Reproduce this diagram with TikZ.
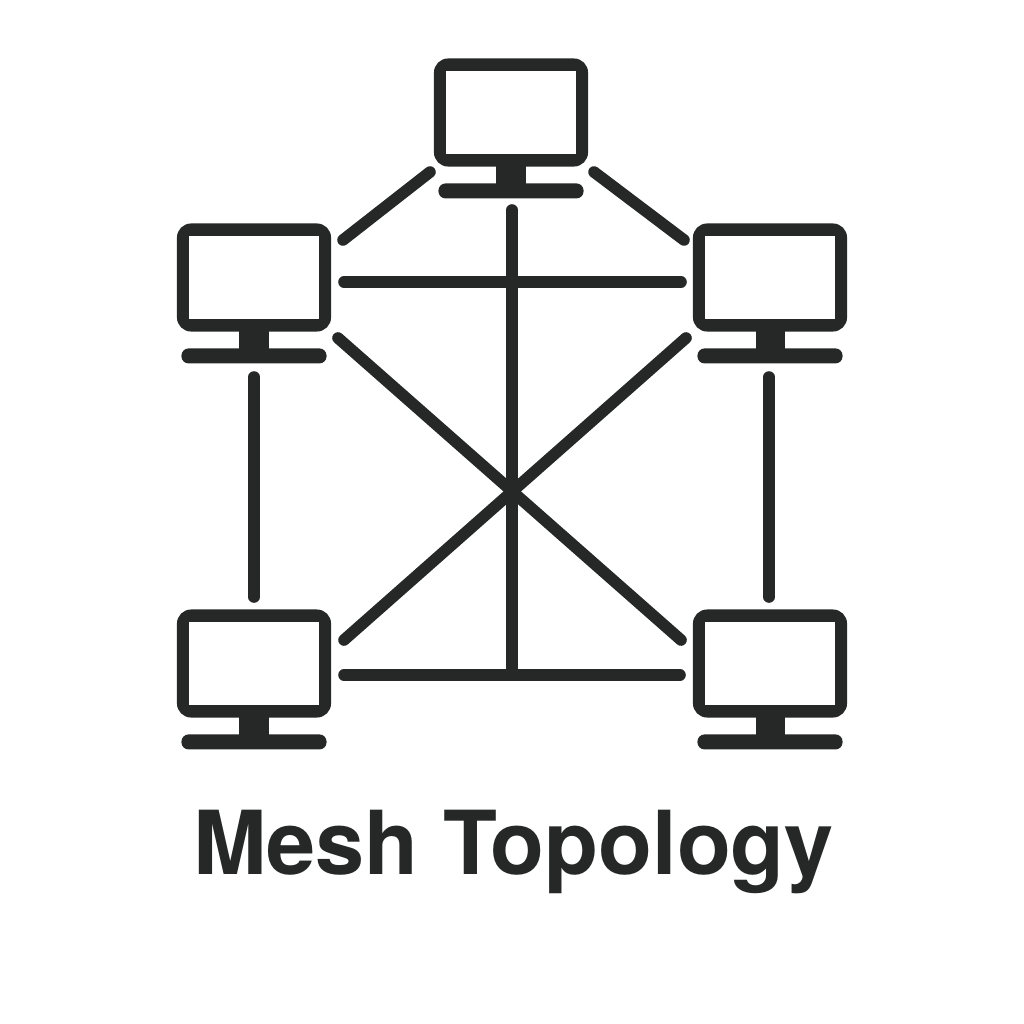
\documentclass[tikz,border=0pt]{standalone}
\usepackage{fontspec}
\setmainfont{TeX Gyre Heros}
\usetikzlibrary{positioning}
\definecolor{InkDark}{HTML}{262828}
\tikzset{
  casebox/.style={fill=InkDark,rounded corners=4pt,inner sep=0pt,outer sep=0pt,minimum width=1.54cm,minimum height=1.08cm},
  screenbox/.style={fill=white,inner sep=0pt,outer sep=0pt,minimum width=1.29cm,minimum height=0.82cm},
  standbox/.style={fill=InkDark,inner sep=0pt,outer sep=0pt,minimum width=0.29cm,minimum height=0.19cm},
  basebox/.style={fill=InkDark,rounded corners=2pt,inner sep=0pt,outer sep=0pt,minimum width=1.45cm,minimum height=0.15cm},
  wire/.style={draw=InkDark,line width=3.3pt,line cap=round},
}
\begin{document}
\begin{tikzpicture}[x=0.01cm,y=-0.01cm]
  \useasboundingbox (0,0) rectangle (1024,1024);
  \fill[white] (0,0) rectangle (1024,1024);
  % monitors
  \foreach \name/\x/\y in {top/511/112.5,left/254/277.5,right/770/277.5,botleft/254/663.5,botright/770/663.5}{
    \node[casebox] (\name) at (\x,\y) {};
    \node[screenbox] (\name screen) at (\name.center) {};
    \node[standbox,below=-0.3pt of \name] (\name stand) {};
    \node[basebox,below=-0.3pt of \name stand] (\name base) {};
  }
  % free ends of the links
  \foreach \name/\x/\y in {a1/430/172,a2/343/240,b1/594/172,b2/684/240,c1/344/282,c2/681/282,
    d1/512/210,d2/512/670,e1/338/338,e2/681/640,f1/686/338,f2/344/640,
    g1/254/377,g2/254/597,h1/769/377,h2/769/597,k1/344/675,k2/680/675}
    \coordinate (\name) at (\x,\y);
  \foreach \p/\q in {a1/a2,b1/b2,c1/c2,d1/d2,e1/e2,f1/f2,g1/g2,h1/h2,k1/k2}
    \draw[wire] (\p) -- (\q);
  \node[font=\fontsize{25.1}{28}\bfseries,text=InkDark] (title) at (513.5,852) {Mesh Topology};
\end{tikzpicture}
\end{document}
